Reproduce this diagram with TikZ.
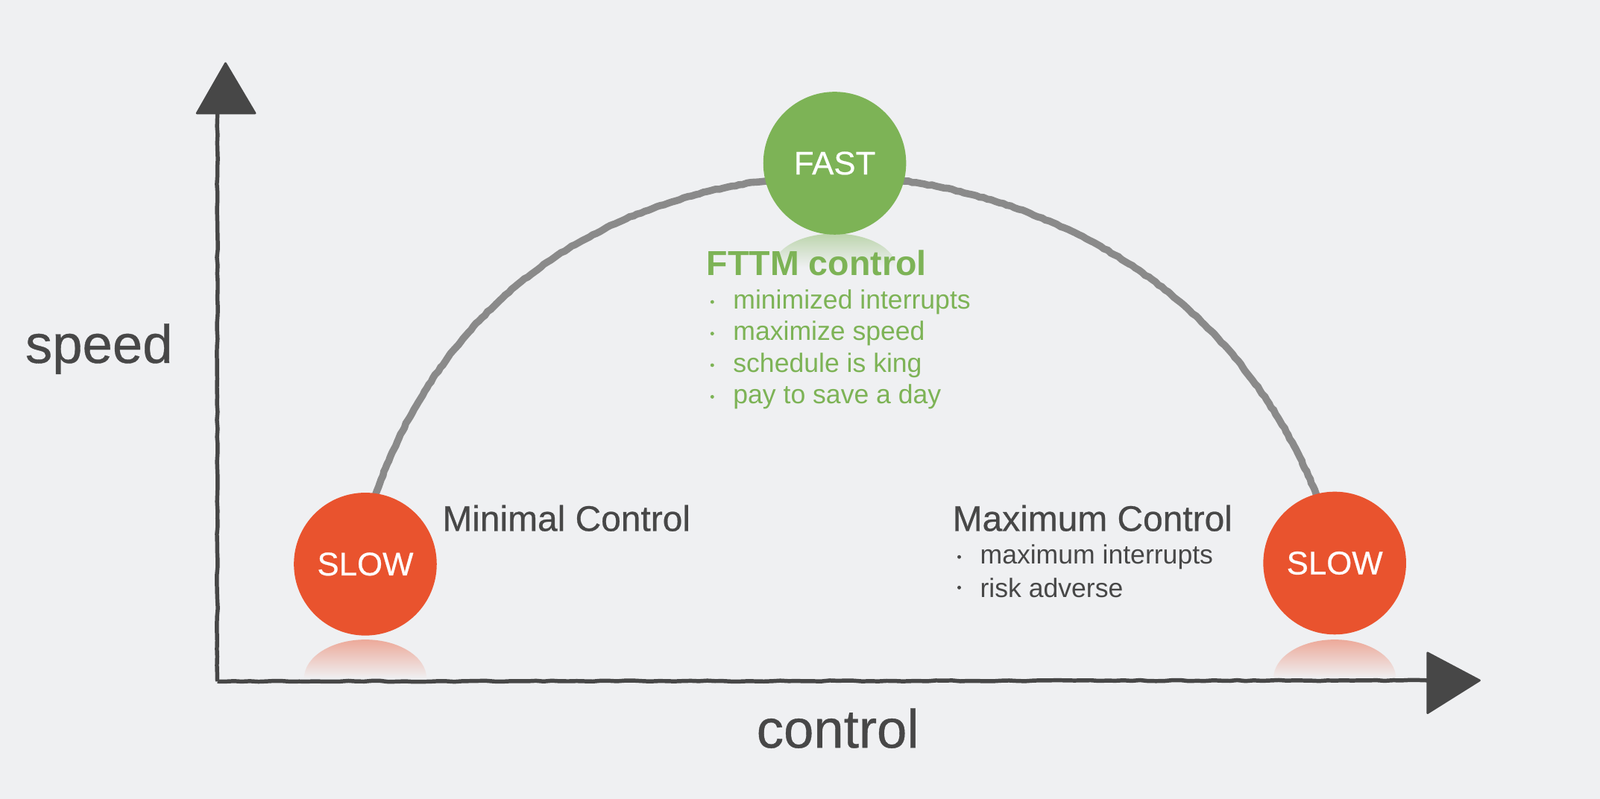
\documentclass[tikz,border=0pt]{standalone}
\usepackage{fontspec}
\setmainfont{Liberation Sans}
\newfontfamily\med[FakeBold=0.5]{Liberation Sans}
\usetikzlibrary{decorations.pathmorphing}
\definecolor{bg}{HTML}{EFF0F2}
\definecolor{ink}{HTML}{474747}
\definecolor{slowc}{HTML}{E9532E}
\definecolor{fastc}{HTML}{7DB356}
\definecolor{arcc}{HTML}{8A8A8A}
\tikzset{
  ball/.style={circle,minimum size=140pt,inner sep=0pt,text=white,font=\fontsize{32}{34}\selectfont\med},
  axis/.style={ink,line width=4pt,decorate,decoration={random steps,segment length=8pt,amplitude=0.5pt}},
  head/.style={fill=ink,draw=ink,line width=2pt,line join=round},
  big/.style={text=ink,font=\fontsize{53}{56}\selectfont\med},
  title/.style={text=ink,anchor=west,font=\fontsize{35}{38}\selectfont\med},
  item/.style={anchor=west,font=\fontsize{26}{28}\selectfont}
}
\begin{document}
\begin{tikzpicture}[x=1pt,y=-1pt]
\fill[bg] (0,0) rectangle (1568,783);
\useasboundingbox (0,0) rectangle (1568,783);
% arc
\coordinate (a1) at (368,485);
\coordinate (a2) at (1290,485);
\draw[arcc,line width=7pt,line cap=round,decorate,decoration={random steps,segment length=4pt,amplitude=0.5pt}]
  (a1) .. controls (450,250) and (650,175) .. (818,172) .. controls (990,175) and (1200,260) .. (a2);
% reflections
\shade[top color=slowc!45!bg,bottom color=bg] (298,665) arc[start angle=180,end angle=360,x radius=60,y radius=38] -- cycle;
\shade[top color=slowc!45!bg,bottom color=bg] (1248,665) arc[start angle=180,end angle=360,x radius=60,y radius=38] -- cycle;
\shade[top color=fastc!45!bg,bottom color=bg] (758,262) arc[start angle=180,end angle=360,x radius=60,y radius=33] -- cycle;
% axes
\coordinate (o) at (213,668);
\coordinate (yt) at (213,100);
\coordinate (xt) at (1400,667);
\draw[axis] (o) -- (yt);
\draw[axis] (o) -- (xt);
\draw[head] (193,111) -- (221,62) -- (250,111) -- cycle;
\draw[head] (1399,640) -- (1450,667) -- (1399,699) -- cycle;
% balls
\node[ball,fill=slowc] (s1) at (358,553) {SLOW};
\node[ball,fill=slowc] (s2) at (1308,552) {SLOW};
\node[ball,fill=fastc] (f) at (818,160) {FAST};
% labels
\node[big] (sp) at (97,342) {speed};
\node[big] (ct) at (821,714) {control};
\node[title] (mn) at (430,508) {Minimal Control};
\node[title] (mx) at (930,508) {Maximum Control};
\node[title,text=fastc,font=\fontsize{34}{36}\selectfont\bfseries] (ft) at (689,258) {FTTM control};
\foreach \t [count=\i] in {minimized interrupts,maximize speed,schedule is king,pay to save a day}{
  \fill[fastc] (698,{265+31*\i}) circle (1.8pt);
  \node[item,text=fastc] (g\i) at (715,{265+31*\i}) {\t};
}
\foreach \t [count=\i] in {maximum interrupts,risk adverse}{
  \fill[ink] (940,{516+30*\i}) circle (1.8pt);
  \node[item,text=ink] (r\i) at (957,{516+30*\i}) {\t};
}
\end{tikzpicture}
\end{document}
